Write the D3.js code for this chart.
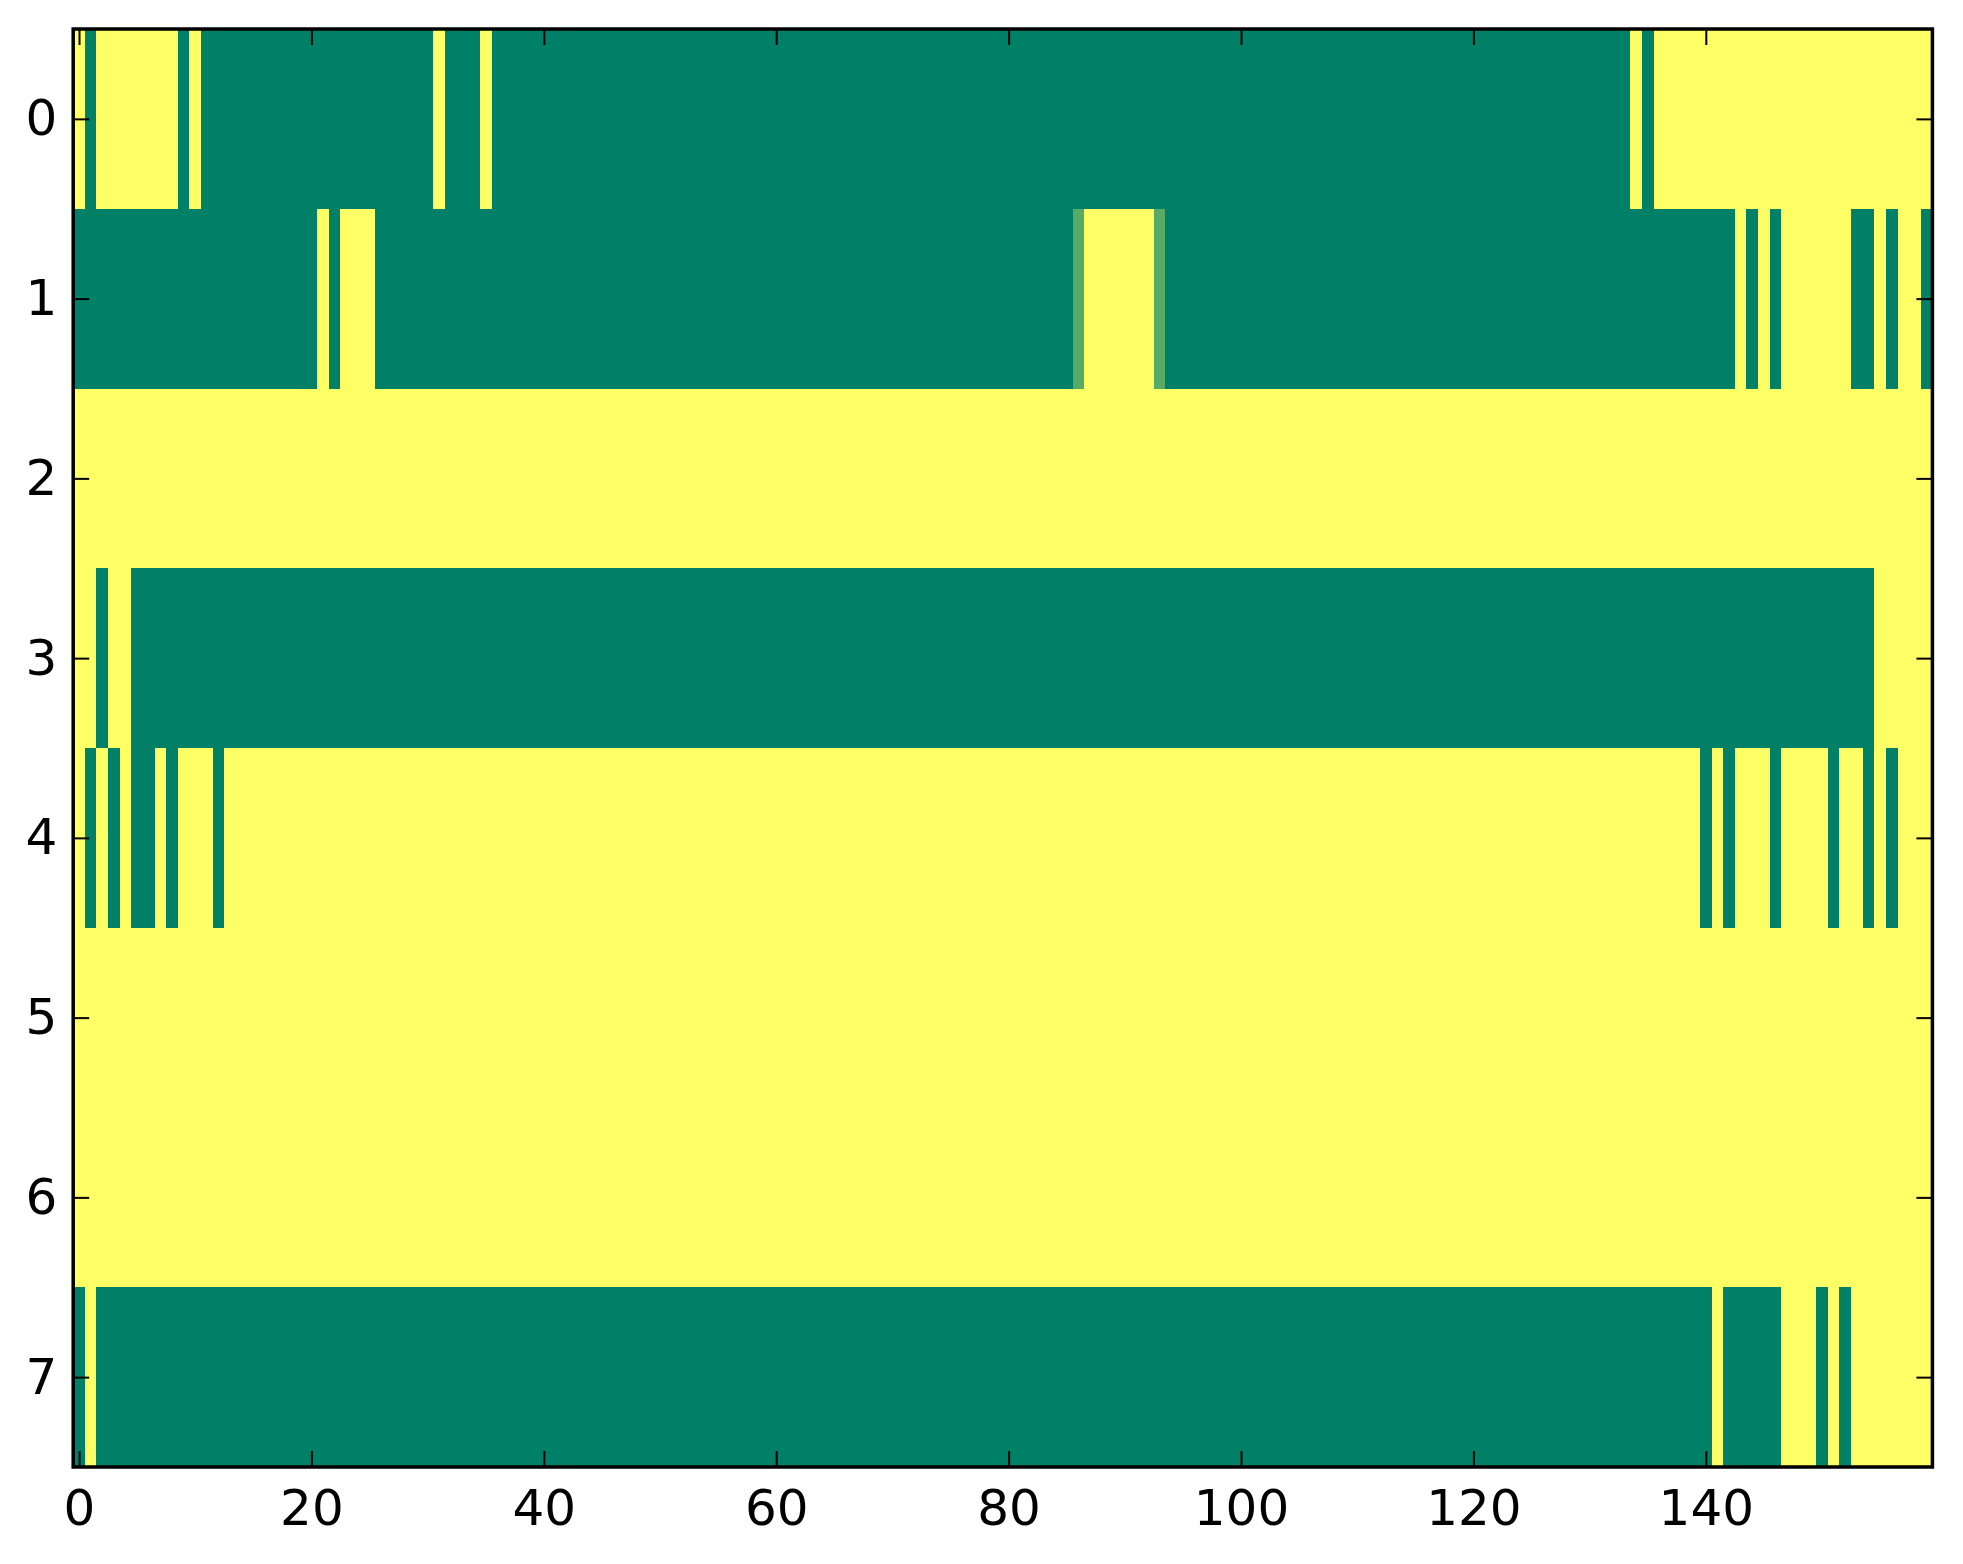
<!DOCTYPE html>
<html>
<head>
<meta charset="utf-8">
<script src="https://cdn.jsdelivr.net/npm/d3@7"></script>
<style>
  body { margin: 0; background: #fff; }
  svg { display: block; }
  .tick text { font-family: "DejaVu Sans", sans-serif; font-size: 50px; fill: #000; }
  .tick line { stroke: #000; stroke-width: 2; }
</style>
</head>
<body>
<svg></svg>
<script>
const WIDTH = 1963
const HEIGHT = 1564
const LEFT = 73.2, RIGHT = 1932.4, TOP = 29, BOTTOM = 1467

// one string per row, 160 cells, grouped by 10 columns; 0 = green, 1 = yellow, m = mid value
const rows = [
  "1011111110 1000000000 0000000000 0100010000 0000000000 0000000000 0000000000 0000000000 0000000000 0000000000 0000000000 0000000000 0000000000 0000101111 1111111111 1111111111",
  "0000000000 0000000000 0101110000 0000000000 0000000000 0000000000 0000000000 0000000000 000000m111 111m000000 0000000000 0000000000 0000000000 0000000000 0001010111 1110010110",
  "1111111111 1111111111 1111111111 1111111111 1111111111 1111111111 1111111111 1111111111 1111111111 1111111111 1111111111 1111111111 1111111111 1111111111 1111111111 1111111111",
  "1101100000 0000000000 0000000000 0000000000 0000000000 0000000000 0000000000 0000000000 0000000000 0000000000 0000000000 0000000000 0000000000 0000000000 0000000000 0000011111",
  "1010100101 1101111111 1111111111 1111111111 1111111111 1111111111 1111111111 1111111111 1111111111 1111111111 1111111111 1111111111 1111111111 1111111111 0101110111 1011010111",
  "1111111111 1111111111 1111111111 1111111111 1111111111 1111111111 1111111111 1111111111 1111111111 1111111111 1111111111 1111111111 1111111111 1111111111 1111111111 1111111111",
  "1111111111 1111111111 1111111111 1111111111 1111111111 1111111111 1111111111 1111111111 1111111111 1111111111 1111111111 1111111111 1111111111 1111111111 1111111111 1111111111",
  "0100000000 0000000000 0000000000 0000000000 0000000000 0000000000 0000000000 0000000000 0000000000 0000000000 0000000000 0000000000 0000000000 0000000000 0100000111 0101111111"
]
const cellValue = { '0': 0, '1': 1, 'm': 0.34 }
const xTicks = [0, 20, 40, 60, 80, 100, 120, 140]
const yTicks = [0, 1, 2, 3, 4, 5, 6, 7]

const cells = []
rows.forEach((r, i) => {
  r.replace(/ /g, '').split('').forEach((c, j) => {
    cells.push({ row: i, col: j, v: cellValue[c] })
  })
})
const nCols = rows[0].replace(/ /g, '').length

const svg = d3.select('svg')
  .attr('width', WIDTH)
  .attr('height', HEIGHT)

const x = d3.scaleLinear().domain([-0.5, nCols - 0.5]).range([LEFT, RIGHT])
const y = d3.scaleLinear().domain([-0.5, rows.length - 0.5]).range([TOP, BOTTOM])
// matplotlib "summer"
const color = d3.scaleLinear().domain([0, 1]).range(['#008066', '#ffff66'])

svg.append('g')
  .selectAll('rect')
  .data(cells)
  .enter().append('rect')
  .attr('x', d => x(d.col - 0.5))
  .attr('y', d => y(d.row - 0.5))
  .attr('width', d => x(d.col + 0.5) - x(d.col - 0.5) + 0.3)
  .attr('height', d => y(d.row + 0.5) - y(d.row - 0.5) + 0.3)
  .attr('fill', d => color(d.v))
  .attr('shape-rendering', 'crispEdges')

svg.append('g')
  .attr('transform', `translate(0,${BOTTOM})`)
  .call(d3.axisBottom(x).tickValues(xTicks).tickSize(-16).tickPadding(22.5))
  .call(g => g.select('.domain').remove())

svg.append('g')
  .attr('transform', `translate(0,${TOP})`)
  .call(d3.axisTop(x).tickValues(xTicks).tickSize(-16).tickFormat(''))
  .call(g => g.select('.domain').remove())

svg.append('g')
  .attr('transform', `translate(${LEFT},0)`)
  .call(d3.axisLeft(y).tickValues(yTicks).tickSize(-16).tickPadding(16))
  .call(g => g.select('.domain').remove())

svg.append('g')
  .attr('transform', `translate(${RIGHT},0)`)
  .call(d3.axisRight(y).tickValues(yTicks).tickSize(-16).tickFormat(''))
  .call(g => g.select('.domain').remove())

svg.append('rect')
  .attr('x', LEFT)
  .attr('y', TOP)
  .attr('width', RIGHT - LEFT)
  .attr('height', BOTTOM - TOP)
  .attr('fill', 'none')
  .attr('stroke', '#000')
  .attr('stroke-width', 3.5)
</script>
</body>
</html>
